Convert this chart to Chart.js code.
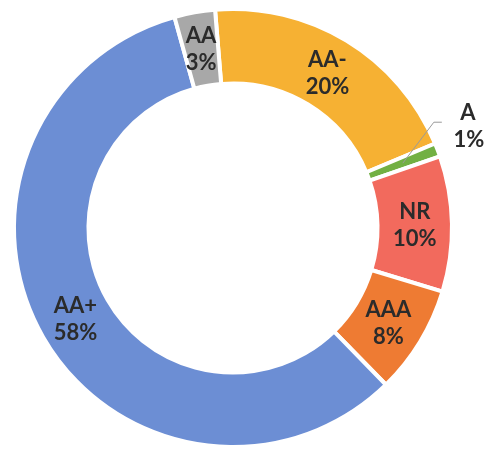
<!DOCTYPE html>
<html>
<head>
<meta charset="utf-8">
<script src="https://cdn.jsdelivr.net/npm/chart.js@4/dist/chart.umd.min.js"></script>
<style>
  body { margin: 0; background: #fff; }
  #wrap { width: 486px; height: 451px; }
</style>
</head>
<body>
<div id="wrap"><canvas id="chart" width="486" height="451"></canvas></div>
<script>
// ratings, clockwise from the top
const ratings = ['AA-', 'A', 'NR', 'AAA', 'AA+', 'AA'];
const shares = [20, 1, 10, 8, 58, 3];
const colores = ['#F6B133', '#72B043', '#F26A5D', '#EE7B33', '#6C8ED4', '#A8A8A8'];

// draws "name / xx%" on each slice, small slices get a leader line
const sliceLabels = {
  id: 'sliceLabels',
  afterDatasetsDraw(chart) {
    const ctx = chart.ctx;
    const meta = chart.getDatasetMeta(0);
    ctx.save();
    ctx.font = 'bold 22px Lato';
    ctx.fillStyle = '#2b2b2b';
    ctx.textAlign = 'center';
    ctx.textBaseline = 'middle';
    meta.data.forEach((arc, i) => {
      const p = arc.getProps(['x', 'y', 'startAngle', 'endAngle', 'innerRadius', 'outerRadius'], true);
      const mid = (p.startAngle + p.endAngle) / 2;
      const r = (p.innerRadius + p.outerRadius) / 2;
      const txt = shares[i] + '%';
      if (shares[i] < 2) {
        const sx = p.x + Math.cos(mid) * r, sy = p.y + Math.sin(mid) * r;
        const a2 = mid - 0.12;
        const ex = p.x + Math.cos(a2) * (p.outerRadius + 8);
        const ey = p.y + Math.sin(a2) * (p.outerRadius + 8);
        ctx.strokeStyle = '#9a9a9a';
        ctx.lineWidth = 1;
        ctx.beginPath();
        ctx.moveTo(sx, sy);
        ctx.lineTo(ex, ey);
        ctx.lineTo(ex + 8, ey);
        ctx.stroke();
        ctx.fillText(ratings[i], ex + 34, ey - 9);
        ctx.fillText(txt, ex + 35, ey + 18);
      } else {
        const cx = p.x + Math.cos(mid) * r, cy = p.y + Math.sin(mid) * r;
        ctx.fillText(ratings[i], cx, cy - 13);
        ctx.fillText(txt, cx, cy + 14);
      }
    });
    ctx.restore();
  }
};

new Chart(document.getElementById('chart'), {
  type: 'doughnut',
  data: {
    labels: ratings,
    datasets: [{
      data: shares,
      backgroundColor: colores,
      borderColor: '#ffffff',
      borderWidth: 4
    }]
  },
  options: {
    responsive: false,
    animation: false,
    rotation: -4.7,
    cutout: '66%',
    layout: { padding: { left: 0, right: 20, top: 7, bottom: 2 } },
    plugins: {
      legend: { display: false },
      tooltip: { enabled: false }
    }
  },
  plugins: [sliceLabels]
});
</script>
</body>
</html>
